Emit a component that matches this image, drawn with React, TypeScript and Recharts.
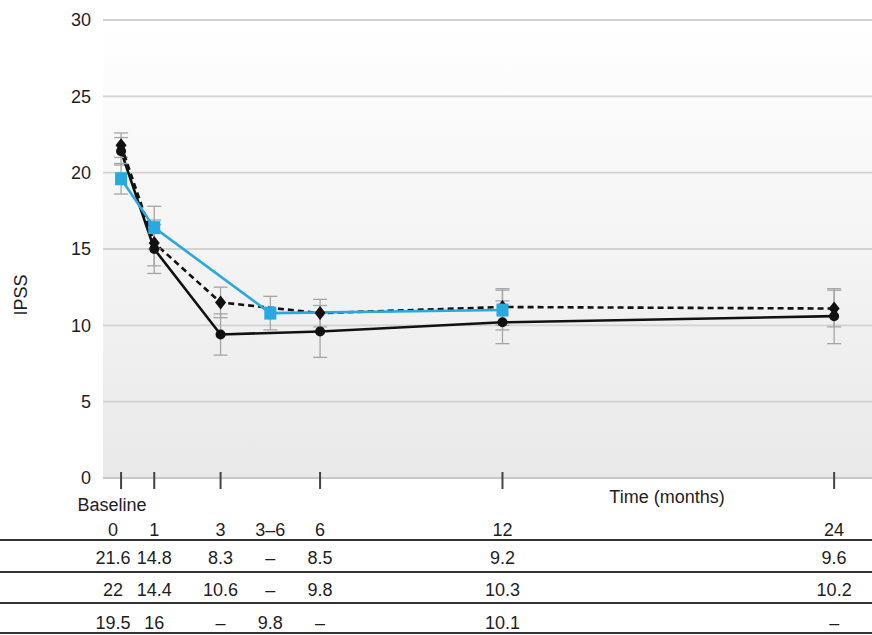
import { CartesianGrid, ErrorBar, Line, LineChart, XAxis, YAxis } from "recharts";

// time points (months); 4.5 stands for the "3–6" window
const tickMonths = [0, 1, 3, 4.5, 6, 12, 24];
const tableHeader = ["0", "1", "3", "3–6", "6", "12", "24"];
const tableRowA = ["21.6", "14.8", "8.3", "–", "8.5", "9.2", "9.6"];
const tableRowB = ["22", "14.4", "10.6", "–", "9.8", "10.3", "10.2"];
const tableRowC = ["19.5", "16", "–", "9.8", "–", "10.1", "–"];

const solidMonths = [0, 1, 3, 6, 12, 24];
const solidIpss = [21.4, 15.0, 9.4, 9.6, 10.2, 10.6];
const solidErr = [0.9, 1.6, 1.35, 1.7, 1.4, 1.8];

const dashedMonths = [0, 1, 3, 6, 12, 24];
const dashedIpss = [21.8, 15.4, 11.5, 10.8, 11.2, 11.1];
const dashedErr = [0.8, 1.5, 1.0, 0.9, 1.2, 1.2];

const cyanMonths = [0, 1, 4.5, 12];
const cyanIpss = [19.6, 16.4, 10.8, 11.0];
const cyanErr = [1.0, 1.4, 1.1, 1.3];

const yTicks = [0, 5, 10, 15, 20, 25, 30];

// the time axis is not linear in the original: later months are squeezed
const axisStops = [0, 1, 3, 6, 12, 24];
const axisSpacing = [0, 1, 3, 6, 11.5, 21.5];

const toRows = (months: number[], ipss: number[], err: number[]) =>
  months.map((m, i) => ({ month: m, ipss: ipss[i], err: err[i] }));

const solidData = toRows(solidMonths, solidIpss, solidErr);
const dashedData = toRows(dashedMonths, dashedIpss, dashedErr);
const cyanData = toRows(cyanMonths, cyanIpss, cyanErr);

function warp(m: number) {
  const n = axisStops.length;
  let i = 0;
  if (m >= axisStops[n - 1]) i = n - 2;
  else while (i < n - 2 && m > axisStops[i + 1]) i++;
  const t = (m - axisStops[i]) / (axisStops[i + 1] - axisStops[i]);
  return axisSpacing[i] + t * (axisSpacing[i + 1] - axisSpacing[i]);
}

function timeScale(dom: number[] = [0, 1], rng: number[] = [0, 1]): any {
  const s: any = (v: number) => {
    const a = warp(dom[0]);
    const b = warp(dom[1]);
    return rng[0] + ((warp(v) - a) / (b - a)) * (rng[1] - rng[0]);
  };
  s.domain = (d?: number[]) => {
    if (d === undefined) return dom.slice();
    dom = d.map(Number);
    return s;
  };
  s.range = (r?: number[]) => {
    if (r === undefined) return rng.slice();
    rng = r.slice();
    return s;
  };
  s.copy = () => timeScale(dom.slice(), rng.slice());
  s.ticks = () => tickMonths.slice();
  return s;
}

const textStyle = { fontSize: 18, fill: "#1e1e1e" };

function TimeTick(props: any) {
  const { x, y, payload } = props;
  const i = tickMonths.indexOf(payload.value);
  const dx = i === 0 ? -8 : 0;
  return (
    <g>
      {payload.value !== 4.5 && (
        <line x1={x} x2={x} y1={y - 6} y2={y + 11} stroke="#444" strokeWidth={2} />
      )}
      {i === 0 && (
        <text x={x - 9} y={y + 33} textAnchor="middle" {...textStyle}>
          Baseline
        </text>
      )}
      <text x={x + dx} y={y + 58} textAnchor="middle" {...textStyle}>
        {tableHeader[i]}
      </text>
      <text x={x + dx} y={y + 86} textAnchor="middle" {...textStyle}>
        {tableRowA[i]}
      </text>
      <text x={x + dx} y={y + 118} textAnchor="middle" {...textStyle}>
        {tableRowB[i]}
      </text>
      <text x={x + dx} y={y + 151} textAnchor="middle" {...textStyle}>
        {tableRowC[i]}
      </text>
    </g>
  );
}

const circleDot = (p: any) => <circle key={p.key} cx={p.cx} cy={p.cy} r={5} fill="#111" />;
const diamondDot = (p: any) => (
  <polygon
    key={p.key}
    points={`${p.cx},${p.cy - 7} ${p.cx + 5.5},${p.cy} ${p.cx},${p.cy + 7} ${p.cx - 5.5},${p.cy}`}
    fill="#111"
  />
);
const squareDot = (p: any) => (
  <rect key={p.key} x={p.cx - 6} y={p.cy - 6.5} width={12} height={13} fill="#29a9e0" />
);

export default function App() {
  return (
    <div
      style={{
        position: "absolute",
        left: 0,
        top: 0,
        width: 872,
        height: 635,
        background: "#fff",
        fontFamily: "'Liberation Sans', Arial, sans-serif",
      }}
    >
      <LineChart width={872} height={635} margin={{ top: 20, right: 0, bottom: 127, left: 0 }}>
        <defs>
          <linearGradient id="plotBg" x1="0" y1="0" x2="0" y2="1">
            <stop offset="0%" stopColor="#ffffff" />
            <stop offset="100%" stopColor="#e9e9e9" />
          </linearGradient>
        </defs>
        <CartesianGrid vertical={false} stroke="#d2d2d2" strokeWidth={1.8} fill="url(#plotBg)" />
        <XAxis
          type="number"
          dataKey="month"
          scale={timeScale()}
          domain={[-0.545, 25.37]}
          allowDataOverflow
          ticks={tickMonths}
          interval={0}
          height={30}
          tickSize={0}
          tickMargin={0}
          tickLine={false}
          axisLine={{ stroke: "#c8c8c8", strokeWidth: 2 }}
          tick={<TimeTick />}
        />
        <YAxis
          type="number"
          domain={[0, 30]}
          ticks={yTicks}
          width={103}
          tickSize={0}
          tickMargin={12}
          tickLine={false}
          axisLine={false}
          tick={{ fontSize: 18, fill: "#1e1e1e" }}
        />
        <Line
          data={solidData}
          dataKey="ipss"
          stroke="#111"
          strokeWidth={2.6}
          dot={circleDot}
          activeDot={false}
          isAnimationActive={false}
        >
          <ErrorBar dataKey="err" width={7} stroke="#a5a5a5" strokeWidth={1.3} isAnimationActive={false} />
        </Line>
        <Line
          data={dashedData}
          dataKey="ipss"
          stroke="#111"
          strokeWidth={2.6}
          strokeDasharray="6 4"
          dot={diamondDot}
          activeDot={false}
          isAnimationActive={false}
        >
          <ErrorBar dataKey="err" width={7} stroke="#a5a5a5" strokeWidth={1.3} isAnimationActive={false} />
        </Line>
        <Line
          data={cyanData}
          dataKey="ipss"
          stroke="#29a9e0"
          strokeWidth={2.6}
          dot={squareDot}
          activeDot={false}
          isAnimationActive={false}
        >
          <ErrorBar dataKey="err" width={7} stroke="#a5a5a5" strokeWidth={1.3} isAnimationActive={false} />
        </Line>
        <text x={21} y={295} transform="rotate(-90 21 295)" textAnchor="middle" dominantBaseline="central" {...textStyle}>
          IPSS
        </text>
        <text x={667} y={503} textAnchor="middle" {...textStyle}>
          Time (months)
        </text>
        {[540, 572, 603, 633].map((ly) => (
          <line key={ly} x1={0} x2={872} y1={ly} y2={ly} stroke="#333" strokeWidth={1.8} />
        ))}
      </LineChart>
    </div>
  );
}
